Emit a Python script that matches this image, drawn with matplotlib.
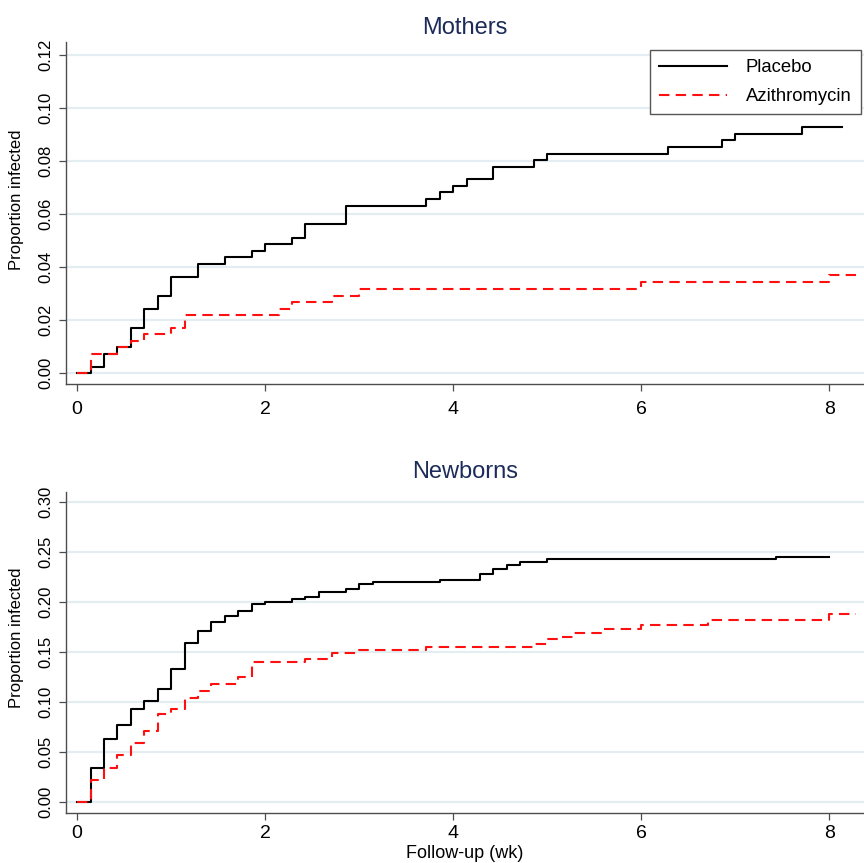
import numpy as np
import matplotlib
matplotlib.use('Agg')
import matplotlib.pyplot as plt

plt.rcParams['font.family'] = ['Liberation Sans', 'DejaVu Sans']

# follow-up times (weeks) and cumulative proportion infected
mothers_placebo_t = [0, 0.143, 0.286, 0.429, 0.571, 0.714, 0.857, 1.0, 1.286, 1.571,
                     1.857, 2.0, 2.286, 2.429, 2.857, 3.714, 3.857, 4.0, 4.143, 4.429,
                     4.857, 5.0, 6.286, 6.857, 7.0, 7.714, 8.14]
mothers_placebo_p = [0, 0.0023, 0.0073, 0.0098, 0.017, 0.0242, 0.0291, 0.0363, 0.0411, 0.0436,
                     0.0461, 0.0485, 0.0509, 0.0561, 0.0631, 0.0657, 0.0681, 0.0707, 0.0731, 0.0779,
                     0.0804, 0.0828, 0.0852, 0.0879, 0.0902, 0.0928, 0.0928]

mothers_azi_t = [0, 0.143, 0.429, 0.571, 0.714, 1.0, 1.143, 2.143, 2.286, 2.714,
                 3.0, 6.0, 8.0, 8.29]
mothers_azi_p = [0, 0.0072, 0.0098, 0.0121, 0.0145, 0.017, 0.0217, 0.0243, 0.0267, 0.0291,
                 0.0318, 0.0342, 0.0368, 0.0368]

newborns_placebo_t = [0, 0.143, 0.286, 0.429, 0.571, 0.714, 0.857, 1.0, 1.143, 1.286,
                      1.429, 1.571, 1.714, 1.857, 2.0, 2.286, 2.429, 2.571, 2.857, 3.0,
                      3.143, 3.857, 4.286, 4.429, 4.571, 4.714, 5.0, 7.429, 8.0]
newborns_placebo_p = [0, 0.034, 0.0623, 0.0767, 0.093, 0.1007, 0.1127, 0.1323, 0.159, 0.1707,
                      0.18, 0.1857, 0.1907, 0.1977, 0.2, 0.2027, 0.205, 0.2097, 0.2127, 0.2173,
                      0.2197, 0.222, 0.2273, 0.2323, 0.237, 0.2397, 0.2423, 0.2443, 0.2443]

newborns_azi_t = [0, 0.143, 0.286, 0.429, 0.571, 0.714, 0.857, 1.0, 1.143, 1.286,
                  1.429, 1.714, 1.857, 2.429, 2.714, 3.0, 3.714, 4.857, 5.0, 5.143,
                  5.286, 5.571, 6.0, 6.714, 8.0, 8.29]
newborns_azi_p = [0, 0.0217, 0.034, 0.0463, 0.0583, 0.071, 0.0873, 0.093, 0.104, 0.1103,
                  0.1177, 0.1247, 0.1393, 0.1423, 0.149, 0.1517, 0.1543, 0.158, 0.1623, 0.165,
                  0.169, 0.1723, 0.1767, 0.1817, 0.188, 0.188]

x_ticks = [0, 2, 4, 6, 8]
mothers_yticks = [0.00, 0.02, 0.04, 0.06, 0.08, 0.10, 0.12]
newborns_yticks = [0.00, 0.05, 0.10, 0.15, 0.20, 0.25, 0.30]

W, H = 864, 863
TITLE_COLOR = '#1c2b59'
GRID_COLOR = '#e4edf2'
SPINE_COLOR = '#4d4d4d'
RED = '#ff1010'


def style_axes(ax, yticks, ylim, title, title_y, ylabel_y, xpad):
    ax.set_xlim(-0.118, 8.37)
    ax.set_ylim(*ylim)
    ax.set_xticks(x_ticks)
    ax.set_xticklabels([str(t) for t in x_ticks])
    ax.set_yticks(yticks)
    ax.set_yticklabels(['%.2f' % v for v in yticks], rotation=90, va='center')
    ax.grid(axis='y', color=GRID_COLOR, lw=1.6)
    ax.set_axisbelow(True)
    for side in ['top', 'right']:
        ax.spines[side].set_visible(False)
    for side in ['left', 'bottom']:
        ax.spines[side].set_color(SPINE_COLOR)
        ax.spines[side].set_linewidth(1.0)
    ax.tick_params(axis='x', length=5, width=0.9, color=SPINE_COLOR, pad=xpad, labelsize=14)
    ax.tick_params(axis='y', length=5, width=0.9, color=SPINE_COLOR, pad=4, labelsize=12)
    ax.set_ylabel('Proportion infected', fontsize=12)
    ax.yaxis.set_label_coords(-42 / 798, ylabel_y)
    fig.text(465 / W, 1 - title_y / H, title, ha='center', va='center',
             fontsize=17, color=TITLE_COLOR)


fig = plt.figure(figsize=(W / 100, H / 100), dpi=100)
ax1 = fig.add_axes([66 / W, 1 - 384 / H, 798 / W, 342 / H])
ax2 = fig.add_axes([66 / W, 1 - 812.7 / H, 798 / W, 321 / H])

dash = (0, (5, 3))
ax1.step(mothers_placebo_t, mothers_placebo_p, where='post', color='black', lw=1.5, label='Placebo')
ax1.step(mothers_azi_t, mothers_azi_p, where='post', color=RED, lw=1.5, ls=dash, label='Azithromycin')
ax2.step(newborns_placebo_t, newborns_placebo_p, where='post', color='black', lw=1.5)
ax2.step(newborns_azi_t, newborns_azi_p, where='post', color=RED, lw=1.5, ls=dash)

style_axes(ax1, mothers_yticks, (-0.0042, 0.1249), 'Mothers', 28, 0.538, 7)
style_axes(ax2, newborns_yticks, (-0.011, 0.31), 'Newborns', 472, 0.544, 4)

# x axis title sits right at the bottom edge, as in the reference
fig.text(465 / W, 1 - 853 / H, 'Follow-up (wk)', ha='center', va='center', fontsize=13)

leg = ax1.legend(loc='upper right', bbox_to_anchor=(0.996, 0.977), borderaxespad=0,
                 fontsize=13.3, handlelength=3.7, handletextpad=1.0, labelspacing=0.65,
                 borderpad=0.5, fancybox=False, framealpha=1)
leg.get_frame().set_edgecolor('#555555')
leg.get_frame().set_linewidth(1.0)

fig.savefig('out.png', dpi=100)
